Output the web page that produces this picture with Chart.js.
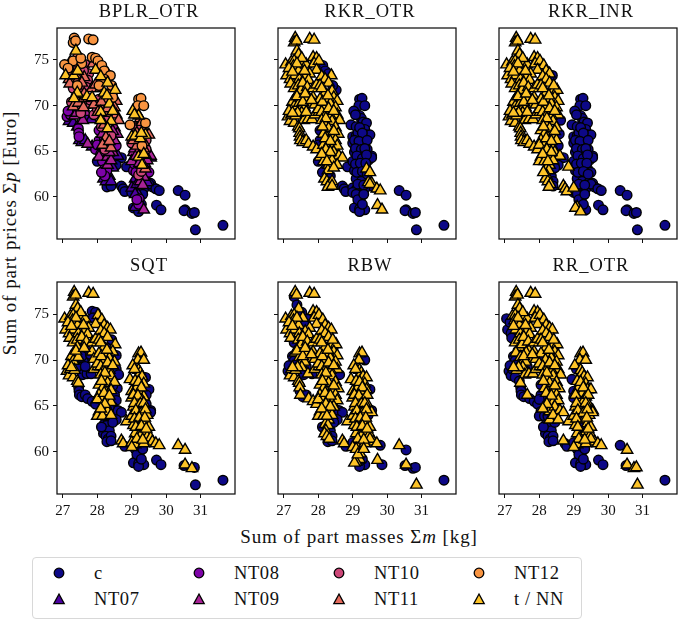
<!DOCTYPE html>
<html>
<head>
<meta charset="utf-8">
<script src="https://cdn.jsdelivr.net/npm/chart.js@4"></script>
<style>
  html, body { margin: 0; padding: 0; background: #fff; overflow: hidden; }
  body { width: 685px; height: 620px; position: relative; font-family: "Liberation Serif", serif; color: #111; }
  canvas { position: absolute; }
  .title { position: absolute; width: 184px; text-align: center; font-size: 18.5px; line-height: 20px; letter-spacing: 1px; white-space: nowrap; }
  #xlabel { position: absolute; left: 159px; width: 400px; top: 526px; text-align: center; font-size: 19px; line-height: 22px; letter-spacing: 0.9px; }
  #ylabel { position: absolute; left: -190px; top: 222px; width: 400px; text-align: center; font-size: 19px; line-height: 22px; letter-spacing: 0.9px; transform: rotate(-90deg); }
  #legend { position: absolute; left: 32px; top: 557px; width: 548px; height: 60px; border: 1.5px solid #d8d8d8; border-radius: 4px; }
  .item { position: absolute; font-size: 18.5px; line-height: 20px; white-space: nowrap; letter-spacing: 0.6px; }
  .item svg { position: absolute; left: -42px; top: 3px; }
</style>
</head>
<body>
<div id="xlabel">Sum of part masses Σ<i>m</i> [kg]</div>
<div id="ylabel">Sum of part prices Σ<i>p</i> [Euro]</div>
<div id="legend"></div>
<script>
/* Design points, the same cloud in every panel */
const partMass = [
    27.33, 27.30, 27.37, 27.75, 27.88, 27.38, 27.43,
    27.05, 27.08, 27.22, 27.30, 27.28, 27.18, 27.32, 27.43, 27.45, 27.55, 27.65, 27.52, 27.85, 27.95, 27.88, 28.02, 28.13, 27.95, 27.75, 27.62, 27.72,
    27.20, 27.30, 27.42, 27.42, 27.50, 27.55, 27.68, 27.70, 27.85, 27.95, 27.32, 27.25, 27.30, 27.45, 27.50, 27.62, 27.75, 27.85, 27.90, 27.60,
    27.12, 27.18, 27.22, 27.30, 27.34, 27.42, 27.52, 27.58, 27.70, 27.82, 27.90, 28.02,
    27.45, 27.46, 27.47, 27.48, 27.55, 27.65, 27.72, 27.85, 27.95,
    28.20, 28.30, 28.38, 28.10, 28.20, 28.05, 28.30, 28.40, 28.52, 28.20, 28.10, 28.45, 28.55, 28.05, 28.25, 28.35, 28.18, 28.50,
    28.00, 28.10, 28.25, 28.55, 28.62, 28.35, 28.40, 28.10, 28.20, 28.30, 28.50, 28.58, 28.05, 28.15, 28.25, 28.40, 28.50, 28.05, 28.15, 28.30, 28.40, 28.55, 28.00,
    28.05, 28.20, 28.30, 28.45, 28.60, 28.70, 28.00, 28.15, 28.30, 28.40, 28.55, 28.85, 28.20, 28.28, 28.22, 28.18, 28.35, 28.25, 28.32, 28.40,
    29.20, 29.27, 29.18, 29.35, 29.03, 29.20, 29.25, 29.30, 29.40, 28.95, 29.10, 29.35, 29.40, 29.50, 29.00, 29.10, 29.25, 29.35, 29.00, 29.15, 29.30,
    29.42, 29.55, 29.05, 29.20, 29.35, 29.45, 29.55, 29.00, 29.15, 29.30, 29.40, 29.50, 29.05, 29.20, 29.35, 29.10, 29.25, 29.45, 29.55, 29.60,
    28.70, 28.75, 28.80, 29.00, 29.10, 29.35, 29.50, 29.70, 29.80, 29.20, 29.22, 29.20, 29.10, 29.05, 29.20, 29.35, 29.20, 29.72, 29.85,
    30.35, 30.55, 30.55, 30.52, 30.75, 30.82, 30.85, 31.65,
    // right band, second pass
    29.08, 29.15, 29.20, 29.28, 29.05, 29.18, 29.42, 29.08, 29.25, 29.35, 29.12, 29.28, 29.40, 29.08, 29.22, 29.38, 29.12, 29.28, 29.42, 29.15, 29.32, 29.00, 29.10, 29.15, 29.28, 29.32,
    // middle band, second pass
    28.12, 28.28, 28.42, 28.22, 28.30, 28.45, 28.45, 28.12, 28.20, 28.35, 28.22, 28.35, 28.10, 28.25, 28.45, 28.12, 28.28, 28.40,
    // left band, second pass
    27.15, 27.38, 27.60, 27.25, 27.38, 27.55, 27.40, 27.15, 27.62, 27.80, 27.25, 27.65
];
const partPrice = [
    77.4, 76.9, 77.1, 77.3, 77.2, 76.0, 75.6,
    74.5, 73.3, 74.8, 74.9, 74.3, 72.9, 73.3, 73.8, 72.9, 74.6, 74.5, 75.2, 75.3, 75.2, 74.6, 74.9, 74.4, 73.9, 73.5, 73.1, 72.8,
    72.4, 71.9, 72.2, 71.4, 71.7, 72.5, 72.0, 71.0, 71.9, 72.3, 70.8, 70.4, 69.9, 70.3, 69.6, 70.8, 70.2, 70.9, 70.1, 69.8,
    68.8, 68.3, 69.0, 68.1, 68.9, 67.7, 69.2, 68.4, 68.5, 68.5, 69.0, 69.3,
    67.5, 67.0, 66.6, 66.2, 66.0, 66.2, 65.8, 65.5, 65.2,
    73.8, 73.5, 73.3, 73.2, 72.9, 72.2, 72.5, 71.6, 71.7, 71.4, 71.9, 70.9, 70.5, 70.7, 70.4, 70.2, 70.0, 69.8,
    69.6, 69.3, 69.2, 69.0, 68.4, 68.9, 68.3, 68.4, 67.9, 67.5, 67.6, 66.9, 67.3, 66.9, 66.5, 66.7, 66.2, 66.2, 65.7, 65.8, 65.4, 65.6, 65.7,
    64.4, 64.9, 64.4, 64.9, 64.5, 64.3, 63.9, 63.9, 63.5, 64.0, 63.5, 63.3, 63.0, 62.9, 62.3, 62.0, 62.3, 61.7, 61.4, 61.7,
    70.7, 70.8, 70.0, 70.0, 69.4, 68.9, 68.6, 68.2, 68.1, 67.9, 67.7, 67.4, 66.8, 66.8, 66.6, 66.7, 66.4, 66.0, 65.9, 65.6, 65.6,
    65.2, 64.5, 64.9, 64.4, 64.7, 64.0, 64.3, 63.9, 63.3, 63.5, 63.1, 62.7, 62.9, 62.4, 62.2, 62.0, 61.7, 61.6, 61.5, 61.1,
    61.2, 60.9, 60.6, 61.0, 60.8, 60.9, 61.4, 60.9, 60.7, 60.2, 59.8, 59.2, 58.9, 58.8, 58.7, 58.6, 58.4, 59.1, 58.6,
    60.7, 60.2, 58.6, 58.5, 58.2, 58.3, 56.4, 56.9,
    69.0, 67.0, 67.6, 67.0, 66.2, 66.1, 66.2, 65.3, 65.2, 65.3, 64.5, 64.2, 64.6, 63.6, 63.7, 63.7, 62.7, 62.8, 62.5, 61.4, 61.3, 60.5, 60.3, 59.7, 59.2, 60.3,
    70.4, 71.1, 72.2, 68.6, 69.7, 69.4, 67.2, 67.7, 66.4, 66.1, 65.2, 64.9, 64.7, 63.9, 63.2, 62.7, 61.1, 61.2,
    74.1, 74.6, 73.8, 73.7, 71.0, 70.4, 69.2, 69.4, 71.3, 70.6, 69.2, 69.3
];

/* Class of each point per panel. Index into classNames */
const bplrClass = [
    6, 6, 6, 6, 6, 7, 5,
    6, 7, 5, 6, 4, 5, 7, 7, 5, 6, 4, 6, 6, 6, 5, 6, 6, 7, 4, 5, 4,
    5, 4, 6, 7, 4, 5, 4, 7, 5, 5, 7, 4, 5, 5, 4, 5, 4, 7, 5, 5,
    2, 1, 2, 1, 3, 1, 4, 3, 1, 1, 4, 5,
    2, 2, 2, 1, 1, 1, 3, 1, 2,
    6, 5, 6, 7, 6, 6, 7, 5, 7, 7, 5, 6, 5, 4, 5, 7, 4, 5,
    4, 7, 5, 5, 5, 4, 7, 7, 5, 7, 3, 3, 2, 3, 5, 4, 3, 2, 5, 4, 5, 2, 2,
    3, 2, 3, 3, 1, 0, 0, 2, 3, 3, 0, 0, 2, 2, 2, 1, 1, 1, 0, 1,
    6, 6, 6, 6, 7, 7, 5, 5, 6, 6, 4, 5, 7, 5, 7, 7, 7, 5, 4, 5, 6,
    4, 3, 3, 7, 7, 3, 1, 3, 2, 7, 5, 2, 2, 4, 3, 1, 3, 1, 0, 0,
    0, 0, 0, 1, 0, 0, 0, 0, 0, 1, 2, 2, 1, 0, 0, 3, 0, 0, 0,
    0, 0, 0, 0, 0, 0, 0, 0,
    7, 5, 4, 7, 5, 4, 4, 3, 4, 5, 3, 1, 3, 2, 3, 1, 2, 4, 0, 1, 3, 0, 1, 2, 0, 0,
    5, 7, 6, 4, 5, 7, 3, 4, 2, 5, 4, 3, 2, 1, 1, 2, 0, 0,
    6, 5, 4, 5, 4, 4, 3, 2, 5, 4, 1, 3
];
const rkrOtrClass = [
    7, 7, 7, 7, 7, 7, 7,
    7, 7, 7, 7, 7, 7, 7, 7, 7, 7, 7, 7, 7, 7, 7, 7, 0, 7, 7, 7, 7,
    7, 7, 7, 7, 7, 7, 7, 7, 7, 7, 7, 7, 7, 7, 7, 7, 7, 7, 7, 7,
    7, 7, 7, 7, 7, 7, 7, 7, 7, 7, 7, 7,
    7, 7, 7, 7, 7, 7, 7, 7, 7,
    0, 0, 7, 7, 7, 7, 7, 7, 0, 7, 7, 7, 7, 7, 7, 7, 7, 7,
    7, 7, 7, 7, 7, 7, 7, 7, 7, 7, 7, 7, 0, 7, 7, 7, 7, 0, 7, 7, 7, 7, 0,
    7, 7, 7, 7, 7, 7, 0, 7, 7, 7, 7, 0, 0, 7, 0, 7, 0, 7, 7, 7,
    0, 0, 0, 0, 0, 0, 0, 0, 0, 0, 0, 0, 0, 0, 0, 0, 0, 0, 0, 0, 0,
    0, 0, 0, 0, 0, 0, 0, 0, 0, 0, 7, 7, 0, 0, 0, 0, 0, 7, 7, 0,
    0, 0, 0, 0, 0, 0, 7, 7, 7, 0, 0, 0, 0, 0, 0, 0, 0, 7, 7,
    0, 0, 0, 0, 0, 0, 0, 0,
    0, 0, 0, 0, 0, 0, 0, 0, 0, 0, 0, 0, 0, 0, 0, 0, 0, 0, 0, 0, 0, 0, 0, 0, 0, 0,
    7, 7, 0, 7, 7, 7, 7, 7, 7, 7, 7, 7, 7, 7, 7, 0, 7, 7,
    7, 7, 7, 7, 7, 7, 7, 7, 7, 7, 7, 7
];
const rkrInrClass = [
    7, 7, 7, 7, 7, 7, 7,
    7, 7, 7, 7, 7, 7, 7, 7, 7, 7, 7, 7, 7, 7, 7, 7, 7, 7, 7, 7, 7,
    7, 7, 7, 7, 7, 7, 7, 7, 7, 7, 7, 7, 7, 7, 7, 7, 7, 7, 7, 7,
    7, 7, 7, 7, 7, 7, 7, 7, 7, 7, 7, 7,
    7, 7, 7, 7, 7, 7, 7, 7, 7,
    7, 7, 0, 7, 7, 7, 7, 7, 7, 7, 7, 7, 7, 7, 7, 7, 7, 7,
    7, 7, 7, 7, 0, 7, 7, 7, 7, 7, 7, 0, 7, 7, 7, 7, 7, 7, 7, 7, 7, 0, 7,
    7, 7, 7, 7, 7, 0, 7, 7, 7, 7, 0, 7, 7, 7, 7, 7, 0, 7, 7, 0,
    0, 0, 0, 0, 0, 0, 0, 0, 0, 0, 0, 0, 0, 0, 0, 0, 0, 0, 0, 0, 0,
    0, 0, 0, 0, 0, 0, 0, 0, 0, 0, 0, 0, 0, 0, 0, 0, 0, 0, 0, 0,
    7, 7, 7, 7, 0, 0, 0, 0, 0, 0, 0, 0, 7, 7, 0, 0, 7, 0, 0,
    0, 0, 0, 0, 0, 0, 0, 0,
    0, 0, 0, 0, 0, 0, 0, 0, 0, 0, 0, 0, 0, 0, 0, 0, 0, 0, 0, 0, 0, 0, 0, 0, 0, 0,
    7, 7, 7, 7, 7, 7, 7, 7, 7, 7, 7, 7, 7, 7, 0, 7, 7, 0,
    7, 7, 7, 7, 7, 7, 7, 7, 7, 7, 7, 7
];
const sqtClass = [
    7, 7, 7, 7, 7, 7, 7,
    7, 7, 7, 7, 7, 7, 7, 7, 7, 7, 7, 7, 0, 0, 0, 7, 7, 7, 7, 7, 7,
    7, 7, 7, 7, 0, 7, 7, 0, 7, 7, 7, 7, 7, 7, 0, 0, 0, 7, 7, 0,
    7, 7, 7, 7, 7, 7, 0, 0, 0, 0, 7, 7,
    7, 0, 0, 0, 0, 0, 0, 0, 0,
    7, 7, 7, 7, 7, 7, 7, 0, 7, 7, 7, 7, 0, 7, 7, 7, 7, 7,
    7, 7, 7, 0, 0, 7, 7, 7, 7, 7, 7, 0, 7, 7, 7, 7, 0, 7, 7, 7, 7, 0, 7,
    7, 7, 7, 0, 0, 0, 7, 7, 0, 7, 0, 7, 0, 0, 0, 0, 0, 0, 0, 0,
    7, 7, 7, 7, 7, 7, 7, 7, 0, 7, 7, 7, 0, 0, 7, 7, 7, 7, 7, 7, 7,
    0, 0, 7, 7, 7, 7, 0, 7, 7, 7, 7, 7, 7, 7, 7, 7, 7, 7, 7, 7,
    7, 7, 0, 7, 7, 7, 0, 7, 7, 0, 0, 0, 0, 0, 0, 0, 0, 0, 0,
    7, 7, 7, 0, 7, 0, 0, 0,
    7, 7, 7, 7, 7, 7, 0, 7, 7, 7, 7, 7, 7, 7, 7, 7, 7, 7, 7, 7, 7, 7, 0, 0, 0, 0,
    7, 7, 0, 7, 7, 7, 0, 7, 7, 7, 7, 0, 7, 0, 0, 0, 0, 0,
    7, 7, 7, 7, 7, 0, 0, 7, 7, 0, 7, 0
];
const rbwClass = [
    7, 0, 7, 7, 7, 0, 7,
    7, 7, 7, 7, 7, 7, 7, 7, 7, 7, 0, 0, 7, 7, 7, 7, 7, 7, 7, 7, 7,
    7, 0, 7, 7, 7, 7, 7, 7, 7, 7, 7, 0, 0, 7, 7, 7, 7, 7, 7, 7,
    0, 7, 7, 7, 7, 7, 7, 0, 7, 0, 7, 7,
    7, 7, 0, 7, 0, 0, 7, 7, 7,
    7, 7, 7, 7, 7, 7, 7, 7, 7, 7, 7, 7, 7, 7, 7, 7, 7, 7,
    7, 7, 7, 7, 0, 7, 7, 7, 7, 7, 7, 7, 7, 7, 7, 7, 7, 7, 7, 7, 7, 7, 7,
    7, 7, 7, 7, 0, 0, 7, 7, 7, 7, 0, 7, 7, 7, 7, 7, 0, 7, 7, 0,
    7, 7, 7, 0, 7, 7, 7, 7, 7, 7, 7, 7, 7, 0, 7, 7, 7, 0, 7, 7, 7,
    7, 0, 7, 7, 7, 0, 7, 7, 7, 7, 7, 7, 7, 7, 7, 7, 7, 7, 7, 7,
    7, 7, 0, 0, 7, 7, 7, 7, 0, 0, 7, 7, 7, 7, 0, 0, 0, 7, 0,
    7, 0, 7, 0, 0, 0, 7, 0,
    7, 7, 7, 7, 7, 7, 7, 7, 7, 7, 7, 7, 7, 7, 7, 7, 7, 7, 7, 7, 7, 7, 7, 7, 0, 7,
    7, 7, 7, 7, 7, 7, 7, 7, 7, 7, 7, 7, 7, 7, 0, 0, 0, 0,
    7, 7, 0, 7, 7, 7, 7, 0, 7, 7, 7, 0
];
const rrOtrClass = [
    7, 7, 7, 7, 7, 7, 7,
    0, 0, 7, 7, 7, 0, 7, 7, 7, 7, 7, 7, 7, 7, 7, 7, 7, 7, 7, 7, 7,
    0, 7, 7, 7, 7, 7, 7, 7, 7, 7, 7, 0, 0, 7, 7, 7, 7, 7, 7, 7,
    0, 0, 0, 0, 7, 0, 7, 7, 7, 7, 7, 7,
    7, 0, 0, 0, 0, 7, 0, 0, 0,
    7, 7, 7, 7, 7, 7, 7, 7, 7, 7, 7, 7, 7, 7, 7, 7, 7, 7,
    7, 7, 7, 7, 7, 7, 7, 7, 7, 7, 7, 7, 0, 7, 7, 7, 7, 0, 0, 7, 7, 7, 0,
    0, 7, 7, 7, 7, 7, 0, 0, 7, 7, 7, 7, 0, 0, 0, 0, 0, 0, 0, 0,
    7, 7, 7, 7, 7, 7, 7, 7, 7, 0, 7, 7, 7, 7, 0, 7, 7, 7, 0, 7, 7,
    7, 7, 7, 7, 7, 7, 7, 7, 0, 7, 7, 7, 7, 0, 7, 7, 0, 7, 7, 7, 7,
    0, 0, 0, 7, 7, 7, 7, 7, 0, 0, 0, 0, 0, 0, 0, 0, 0, 0, 0,
    7, 7, 0, 7, 7, 7, 0, 0,
    7, 7, 7, 7, 0, 7, 7, 0, 7, 7, 7, 7, 7, 0, 7, 7, 0, 7, 7, 7, 7, 0, 0, 0, 0, 0,
    7, 7, 7, 7, 7, 7, 7, 7, 7, 7, 0, 7, 0, 0, 0, 0, 0, 0,
    7, 7, 7, 0, 7, 7, 0, 0, 7, 7, 0, 7
];

const classNames = ['c', 'NT07', 'NT08', 'NT09', 'NT10', 'NT11', 'NT12', 't / NN'];
const classColors = ['#0d0887', '#4c02a1', '#7e03a8', '#a82296', '#cc4778', '#e56b5d', '#f89441', '#fdc328'];
const classMarkers = ['circle', 'triangle', 'circle', 'triangle', 'circle', 'triangle', 'circle', 'triangle'];

const panelTitles = ['BPLR_OTR', 'RKR_OTR', 'RKR_INR', 'SQT', 'RBW', 'RR_OTR'];
const panelClasses = [bplrClass, rkrOtrClass, rkrInrClass, sqtClass, rbwClass, rrOtrClass];
const xTicks = [27, 28, 29, 30, 31];
const yTicks = [60, 65, 70, 75];

const FONT = '"Liberation Serif", serif';

/* Box round the plot area */
const framePlugin = {
    id: 'frame',
    afterDatasetsDraw(chart) {
        const a = chart.chartArea, ctx = chart.ctx;
        ctx.save();
        ctx.strokeStyle = '#111';
        ctx.lineWidth = 1.25;
        ctx.strokeRect(a.left, a.top, a.right - a.left, a.bottom - a.top);
        ctx.restore();
    }
};

function makeDatasets(classes) {
    const out = [];
    classNames.forEach(function (name, id) {
        const pts = [];
        classes.forEach(function (c, i) {
            if (c === id) pts.push({ x: partMass[i], y: partPrice[i] });
        });
        if (!pts.length) return;
        out.push({
            label: name,
            data: pts,
            order: classNames.length - id,   // later classes on top
            pointStyle: classMarkers[id],
            pointRadius: classMarkers[id] === 'circle' ? 4.8 : 6.6,
            pointBackgroundColor: classColors[id],
            pointBorderColor: '#000',
            pointBorderWidth: 1.4,
            showLine: false
        });
    });
    return out;
}

function makePanel(index) {
    const col = index % 3, row = Math.floor(index / 3);
    const canvas = document.createElement('canvas');
    const left = 20 + col * 221;
    const top = row === 0 ? 0 : 254;
    const height = row === 0 ? 269 : 270;
    canvas.width = 223;
    canvas.height = height;
    canvas.style.left = left + 'px';
    canvas.style.top = top + 'px';
    canvas.style.width = '223px';
    canvas.style.height = height + 'px';
    document.body.appendChild(canvas);

    // panel title sits above the plot area
    const title = document.createElement('div');
    title.className = 'title';
    title.textContent = panelTitles[index];
    title.style.left = (left + 37) + 'px';
    title.style.top = (top + 1) + 'px';
    document.body.appendChild(title);

    return new Chart(canvas.getContext('2d'), {
        type: 'scatter',
        data: { datasets: makeDatasets(panelClasses[index]) },
        plugins: [framePlugin],
        options: {
            responsive: false,
            animation: false,
            devicePixelRatio: 1,
            layout: { padding: { top: 28, right: 2 } },
            plugins: {
                legend: { display: false },
                tooltip: { enabled: false }
            },
            scales: {
                x: {
                    type: 'linear',
                    min: 26.83,
                    max: 32.0,
                    border: { display: false },
                    grid: { drawOnChartArea: false, drawTicks: true, tickLength: 4, tickColor: '#111', tickWidth: 1 },
                    ticks: { display: row === 1, color: '#111', padding: 4, font: { family: FONT, size: 15 }, maxRotation: 0, autoSkip: false },
                    afterBuildTicks: function (s) { s.ticks = xTicks.map(function (v) { return { value: v }; }); },
                    afterFit: function (s) { s.height = 30; }
                },
                y: {
                    type: 'linear',
                    min: 55.4,
                    max: 78.5,
                    border: { display: false },
                    grid: { drawOnChartArea: false, drawTicks: true, tickLength: 4, tickColor: '#111', tickWidth: 1 },
                    ticks: { display: col === 0, color: '#111', padding: 4, font: { family: FONT, size: 15 }, autoSkip: false },
                    afterBuildTicks: function (s) { s.ticks = yTicks.map(function (v) { return { value: v }; }); },
                    afterFit: function (s) { s.width = 37; }
                }
            }
        }
    });
}

/* Legend box under the panels, filled column by column */
function buildLegend() {
    const box = document.getElementById('legend');
    const colX = [61, 201, 341, 481];
    classNames.forEach(function (name, id) {
        const item = document.createElement('div');
        item.className = 'item';
        item.style.left = colX[Math.floor(id / 2)] + 'px';
        item.style.top = (id % 2 === 0 ? 5 : 31) + 'px';
        const shape = classMarkers[id] === 'circle'
            ? '<circle cx="7" cy="7" r="4.8"'
            : '<polygon points="7,2 12.2,11.6 1.8,11.6"';
        item.innerHTML = '<svg width="14" height="14">' + shape + ' fill="' + classColors[id] + '" stroke="#000" stroke-width="1.3"/></svg>' + name;
        box.appendChild(item);
    });
}

for (let i = 0; i < panelTitles.length; i++) makePanel(i);
buildLegend();
</script>
</body>
</html>
